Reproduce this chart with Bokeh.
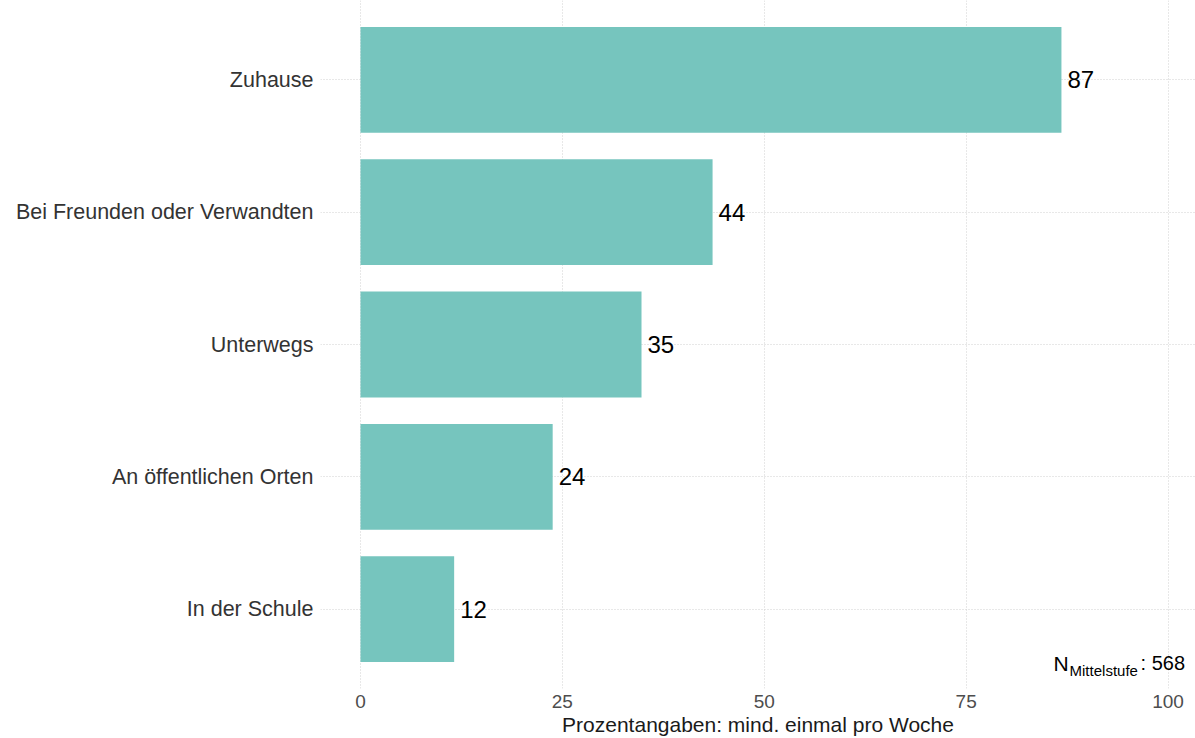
from bokeh.plotting import figure
from bokeh.models import Range1d, FixedTicker, ColumnDataSource, Label
from bokeh.core.properties import value
from bokeh.embed import file_html
from bokeh.resources import INLINE

# data (bottom to top)
categories = ["In der Schule", "An öffentlichen Orten", "Unterwegs",
              "Bei Freunden oder Verwandten", "Zuhause"]
values = [11.6, 23.8, 34.8, 43.6, 86.8]
labels = ["12", "24", "35", "44", "87"]
x_ticks = [0, 25, 50, 75, 100]
n_text = ": 568"
n_sub = "Mittelstufe"
x_title = "Prozentangaben: mind. einmal pro Woche"

FONT = "Liberation Sans"
BAR = "#76C5BE"

pos = list(range(len(categories)))
src = ColumnDataSource(dict(y=pos, v=values, lab=labels, cat=categories))

p = figure(width=1195, height=738, output_backend="svg", toolbar_location=None,
           x_range=Range1d(-4.95, 103.4), y_range=Range1d(-0.6, len(categories) - 1 + 0.6),
           min_border_left=320, min_border_right=0, min_border_top=0, min_border_bottom=0)
p.outline_line_color = None
p.background_fill_color = "white"
p.border_fill_color = "white"

p.hbar(y="y", right="v", left=0, height=0.8, source=src, fill_color=BAR, line_color=None)
p.text(x="v", y="y", text="lab", source=src, x_offset=6, text_baseline="middle",
       text_align="left", text_font=value(FONT), text_font_size="24px", text_color="black")

# axes
xa = p.xaxis[0]
xa.ticker = FixedTicker(ticks=x_ticks)
xa.axis_line_color = None
xa.major_tick_line_color = None
xa.minor_tick_line_color = None
xa.major_label_text_font = FONT
xa.major_label_text_font_size = "19px"
xa.major_label_text_color = "#4D4D4D"
xa.major_label_standoff = 0
xa.axis_label = x_title
xa.axis_label_text_font = FONT
xa.axis_label_text_font_size = "21px"
xa.axis_label_text_font_style = "normal"
xa.axis_label_text_color = "#1A1A1A"
xa.axis_label_standoff = 2

ya = p.yaxis[0]
ya.ticker = FixedTicker(ticks=pos)
ya.major_label_overrides = {i: c for i, c in zip(pos, categories)}
ya.axis_line_color = None
ya.major_tick_line_color = None
ya.minor_tick_line_color = None
ya.major_label_text_font = FONT
ya.major_label_text_font_size = "21.5px"
ya.major_label_text_color = "#333333"
ya.major_label_standoff = 1

for g in (p.xgrid[0], p.ygrid[0]):
    g.grid_line_color = "#D0D0D0"
    g.grid_line_dash = "1 2"
    g.grid_line_width = 1
p.xgrid[0].ticker = FixedTicker(ticks=x_ticks)
p.ygrid[0].ticker = FixedTicker(ticks=pos)

# N annotation
base_y = -0.41
p.add_layout(Label(x=100, y=base_y, x_offset=-114.5, text="N", text_font=FONT,
                   text_font_size="21px", text_color="black", text_baseline="alphabetic"))
p.add_layout(Label(x=100, y=base_y - 0.055, x_offset=-98.5, text=n_sub, text_font=FONT,
                   text_font_size="15px", text_color="black", text_baseline="alphabetic"))
p.add_layout(Label(x=100, y=base_y, x_offset=-27.5, text=n_text, text_font=FONT,
                   text_font_size="20px", text_color="black", text_baseline="alphabetic"))

open("out.html", "w").write(file_html(p, INLINE))
